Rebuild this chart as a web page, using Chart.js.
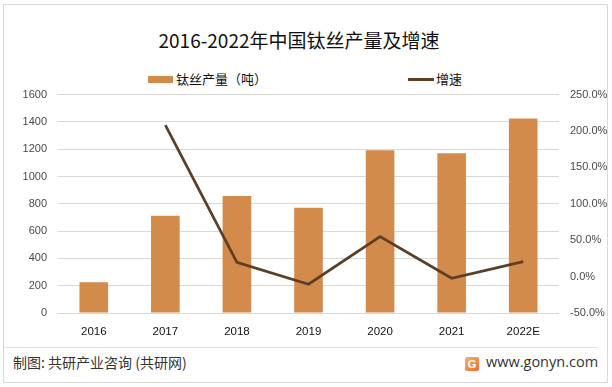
<!DOCTYPE html>
<html>
<head>
<meta charset="utf-8">
<script src="https://cdn.jsdelivr.net/npm/chart.js@4/dist/chart.umd.min.js"></script>
<style>
  html, body { margin: 0; padding: 0; background: #fff; }
  body { width: 612px; height: 387px; position: relative; overflow: hidden;
         font-family: "Noto Sans CJK SC", "Noto Sans", sans-serif; }
  #frame { position: absolute; left: 3px; top: 4px; width: 603px; height: 377px;
           border: 1px solid #d9d9d9; box-sizing: content-box; }
  #title { position: absolute; left: 0; width: 598px; top: 27px; text-align: center;
           font-size: 19px; color: #111; line-height: 26px; }
  .leg { position: absolute; top: 70px; font-size: 13px; color: #111; line-height: 18px; }
  .sw { position: absolute; }
  #chartWrap { position: absolute; left: 0; top: 77px; width: 612px; height: 263px; }
  #sep { position: absolute; left: 4px; top: 347px; width: 593px; height: 1px; background: #e3e3e3; }
  #src { position: absolute; left: 13px; top: 353px; font-size: 14px; color: #333; line-height: 19px; }
  #logo { position: absolute; left: 465px; top: 357px; width: 14px; height: 14px; border-radius: 2px;
          background: linear-gradient(135deg, #f7b267, #ee6b2d); color: #fff; font: bold 11px "Liberation Sans", sans-serif;
          text-align: center; line-height: 14px; }
  #site { position: absolute; left: 486px; top: 353px; font-size: 14.5px; color: #333; line-height: 18px;
          font-family: "Open Sans", "Noto Sans", sans-serif; }
</style>
</head>
<body>
<div id="frame"></div>
<div id="title">2016-2022年中国钛丝产量及增速</div>
<div class="sw" style="left:148px;top:76px;width:25px;height:7px;background:#d38b4c"></div>
<div class="leg" style="left:176px">钛丝产量（吨）</div>
<div class="sw" style="left:408px;top:78px;width:26px;height:3px;background:#5d3f27"></div>
<div class="leg" style="left:436px">增速</div>
<div id="chartWrap"><canvas id="c" width="612" height="263"></canvas></div>
<div id="sep"></div>
<div id="src">制图: 共研产业咨询 (共研网)</div>
<div id="logo">G</div>
<div id="site">www.gonyn.com</div>
<script>
const categories = ["2016", "2017", "2018", "2019", "2020", "2021", "2022E"];
const production = [225, 713, 858, 771, 1193, 1171, 1425];
const growth = [null, 208, 19.5, -10.5, 55, -2.3, 20.5];
const leftTicks = [0, 200, 400, 600, 800, 1000, 1200, 1400, 1600];
const rightTicks = [-50, 0, 50, 100, 150, 200, 250];

const tickFont = { family: "Liberation Sans", size: 11 };

new Chart(document.getElementById('c'), {
  data: {
    labels: categories,
    datasets: [
      { type: 'line', label: '增速', data: growth, yAxisID: 'y2',
        borderColor: '#5d3f27', borderWidth: 2.75, pointRadius: 0, tension: 0,
        spanGaps: false, order: 0 },
      { type: 'bar', label: '钛丝产量（吨）', data: production, yAxisID: 'y',
        backgroundColor: '#d38b4c', categoryPercentage: 1, barPercentage: 0.4, order: 1 }
    ]
  },
  options: {
    responsive: false, animation: false, devicePixelRatio: 1,
    layout: { padding: { top: 0, left: 0, right: 0, bottom: 0 } },
    plugins: { legend: { display: false }, tooltip: { enabled: false } },
    scales: {
      x: {
        grid: { display: false }, border: { display: false },
        ticks: { color: '#111', font: { family: "Liberation Sans", size: 11.5 }, padding: 4 },
        afterFit: s => { s.height = 27; }
      },
      y: {
        position: 'left', min: leftTicks[0], max: leftTicks[leftTicks.length - 1],
        afterBuildTicks: s => { s.ticks = leftTicks.map(v => ({ value: v })); },
        grid: { color: '#d9d9d9', lineWidth: 1, drawTicks: false },
        border: { display: false },
        ticks: { color: '#4a4a4a', font: tickFont, padding: 11, callback: v => String(v) },
        afterFit: s => { s.width = 58; }
      },
      y2: {
        position: 'right', min: rightTicks[0], max: rightTicks[rightTicks.length - 1],
        afterBuildTicks: s => { s.ticks = rightTicks.map(v => ({ value: v })); },
        grid: { display: false, drawTicks: false },
        border: { display: false },
        ticks: { color: '#4a4a4a', font: tickFont, padding: 11,
                 callback: v => v.toFixed(1) + '%' },
        afterFit: s => { s.width = 53; }
      }
    }
  }
});
</script>
</body>
</html>
